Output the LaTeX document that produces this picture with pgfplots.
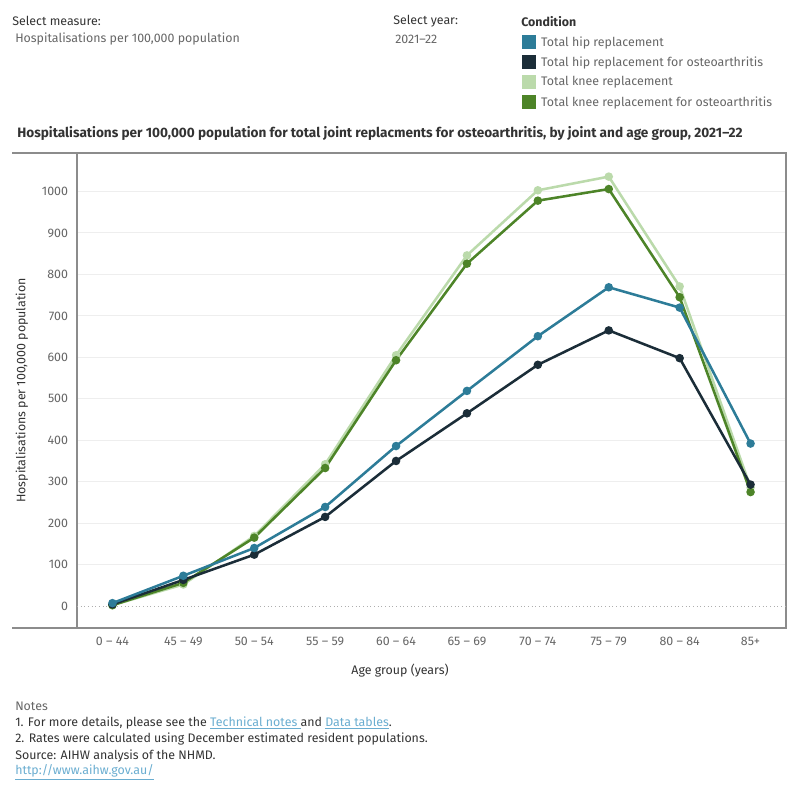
\documentclass[border=0pt]{standalone}
\usepackage{fontspec}
\setmainfont{Fira Sans}
\usepackage{pgfplots}
\pgfplotsset{compat=1.18}
\definecolor{hip}{HTML}{2D7C98}
\definecolor{hipoa}{HTML}{1B2D38}
\definecolor{knee}{HTML}{BBDAAB}
\definecolor{kneeoa}{HTML}{4D8428}
\definecolor{txtdark}{HTML}{333333}
\definecolor{txtgrey}{HTML}{666666}
\definecolor{axgrey}{HTML}{8C8C8C}
\definecolor{gridgrey}{HTML}{EEEEEE}
\definecolor{linkblue}{HTML}{6AADD0}
\newcommand{\fs}{\fontsize{9.3}{11}\selectfont}
\begin{document}
\begin{tikzpicture}
\path (0pt,0pt) rectangle (600pt,600pt);
% header
\node[anchor=west,inner sep=0pt,text=txtdark,font=\fs] at (9pt,584.25pt) {Select measure:};
\node[anchor=west,inner sep=0pt,text=txtgrey,font=\fs] at (11.25pt,570.75pt) {Hospitalisations per 100,000 population};
\node[anchor=west,inner sep=0pt,text=txtdark,font=\fs] at (294.75pt,584.25pt) {Select year:};
\node[anchor=west,inner sep=0pt,text=txtgrey,font=\fs] at (296.25pt,570.75pt) {2021–22};
\node[anchor=west,inner sep=0pt,text=txtdark,font=\fs\bfseries] at (390.75pt,583.5pt) {Condition};
% title
\node[anchor=west,inner sep=0pt,text=txtdark,font=\fontsize{10.2}{12}\selectfont\bfseries] at (12.75pt,499.5pt) {Hospitalisations per 100,000 population for total joint replacments for osteoarthritis, by joint and age group, 2021–22};
\begin{axis}[
  at={(57.75pt,129pt)}, anchor=south west, scale only axis,
  width=531.75pt, height=356.25pt,
  xmin=-0.5, xmax=9.5, ymin=-53, ymax=1093,
  axis line style={axgrey, line width=0.9pt},
  major tick length=0pt,
  xtick={0,...,9},
  xticklabels={0 – 44,45 – 49,50 – 54,55 – 59,60 – 64,65 – 69,70 – 74,75 – 79,80 – 84,85+},
  ytick={100,200,...,1000},
  extra y ticks={0},
  extra y tick style={grid style={axgrey!70, dotted, line width=0.75pt}},
  ymajorgrids,
  grid style={gridgrey, line width=0.75pt},
  /pgf/number format/assume math mode=true,
  /pgf/number format/1000 sep={},
  yticklabel style={inner sep=0pt, xshift=-6.5pt, text=txtgrey, font=\fs},
  xticklabel style={inner sep=0pt, yshift=-6.4pt, text=txtgrey, font=\fs},
  ylabel={Hospitalisations per 100,000 population},
  ylabel style={at={(axis description cs:-0.0776,0.5)}, anchor=center, text=txtdark, font=\fs},
  xlabel={Age group (years)},
  xlabel style={at={(axis description cs:0.4556,-0.0905)}, anchor=center, text=txtdark, font=\fs},
  legend image code/.code={\fill[#1, draw=none] (0pt,-5.25pt) rectangle (10.5pt,5.25pt);},
  legend style={at={(0.627,1.2484)}, anchor=north west, draw=none, fill=none,
    font=\fs, text=txtgrey, inner sep=0pt, row sep=4.5pt,
    nodes={inner sep=0pt, anchor=west}},
  legend cell align=left,
  every axis plot/.append style={line width=1.9pt, mark=*, mark size=2.2pt},
]
\addlegendimage{hip}
\addlegendentry{\hspace{4pt}Total hip replacement}
\addlegendimage{hipoa}
\addlegendentry{\hspace{4pt}Total hip replacement for osteoarthritis}
\addlegendimage{knee}
\addlegendentry{\hspace{4pt}Total knee replacement}
\addlegendimage{kneeoa}
\addlegendentry{\hspace{4pt}Total knee replacement for osteoarthritis}
% Total knee replacement
\addplot[knee, forget plot] coordinates {(0,2) (1,52) (2,169) (3,342) (4,605) (5,846) (6,1003) (7,1036) (8,771) (9,286)};
% Total knee replacement for osteoarthritis
\addplot[kneeoa, forget plot] coordinates {(0,2) (1,56) (2,165) (3,333) (4,593) (5,826) (6,978) (7,1006) (8,745) (9,275)};
% Total hip replacement for osteoarthritis
\addplot[hipoa, forget plot] coordinates {(0,4) (1,63) (2,124) (3,215) (4,350) (5,465) (6,582) (7,665) (8,598) (9,293)};
% Total hip replacement
\addplot[hip, forget plot] coordinates {(0,7) (1,73) (2,140) (3,239) (4,386) (5,519) (6,651) (7,769) (8,720) (9,392)};
\end{axis}
\draw[axgrey, line width=0.9pt] (9pt,485.25pt) -- (57.75pt,485.25pt);
\draw[axgrey, line width=0.9pt] (9pt,129pt) -- (57.75pt,129pt);
% notes
\begin{scope}[every node/.style={anchor=west, inner sep=0pt, text=txtdark, font=\fs}]
\node[text=txtgrey] at (11.25pt,70.5pt) {Notes};
\node at (11.25pt,57.75pt) {1. For more details, please see the \textcolor{linkblue}{\underline{Technical notes }}and \textcolor{linkblue}{\underline{Data tables}}.};
\node at (11.25pt,45.75pt) {2. Rates were calculated using December estimated resident populations.};
\node at (11.25pt,33pt) {Source: AIHW analysis of the NHMD.};
\node at (11.25pt,21pt) {\textcolor{linkblue}{\underline{http://www.aihw.gov.au/}}};
\end{scope}
\end{tikzpicture}
\end{document}
